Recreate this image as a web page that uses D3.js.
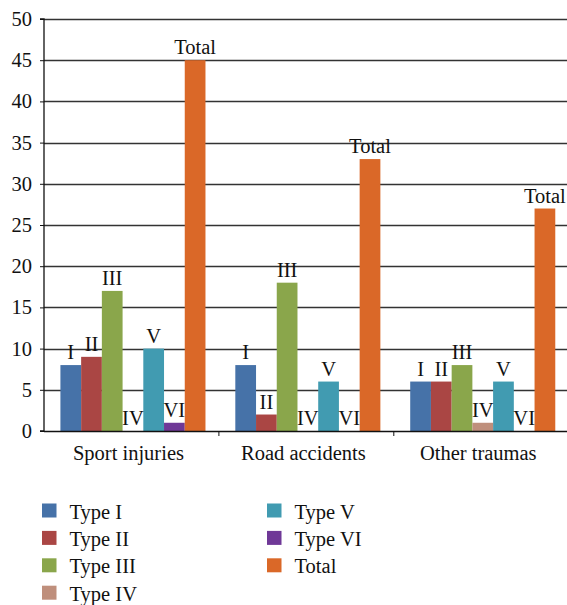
<!DOCTYPE html>
<html>
<head>
<meta charset="utf-8">
<script src="https://cdn.jsdelivr.net/npm/d3@7"></script>
<style>
  body { margin: 0; background: #fff; }
</style>
</head>
<body>
<script>
// data
var categories = ["Sport injuries", "Road accidents", "Other traumas"];
var seriesNames = ["Type I", "Type II", "Type III", "Type IV", "Type V", "Type VI", "Total"];
var barLabels = ["I", "II", "III", "IV", "V", "VI", "Total"];
var typeI = [8, 8, 6];
var typeII = [9, 2, 6];
var typeIII = [17, 18, 8];
var typeIV = [0, 0, 1];
var typeV = [10, 6, 6];
var typeVI = [1, 0, 0];
var total = [45, 33, 27];
var yTicks = [0, 5, 10, 15, 20, 25, 30, 35, 40, 45, 50];

var seriesValues = [typeI, typeII, typeIII, typeIV, typeV, typeVI, total];
var colors = ["#4672a8", "#aa4644", "#8aa64b", "#bf8f7c", "#419bb1", "#6f3897", "#da6828"];

var width = 567, height = 605;
var plotLeft = 44, plotRight = 568.7, plotTop = 19, plotBottom = 431;
var fs = 20.5;
var serif = "Liberation Serif";

var svg = d3.select("body").append("svg")
  .attr("width", width)
  .attr("height", height)
  .attr("font-family", serif);

var y = d3.scaleLinear().domain([0, 50]).range([plotBottom, plotTop]);
var x0 = d3.scaleBand().domain(categories).range([plotLeft, plotRight]);
var x1 = d3.scaleBand().domain(seriesNames).range([0, x0.bandwidth()])
  .paddingOuter(0.72).align(0.55);
var color = d3.scaleOrdinal().domain(seriesNames).range(colors);

// gridlines
svg.append("g")
  .selectAll("line")
  .data(yTicks.filter(function (d) { return d > 0; }))
  .enter()
  .append("line")
  .attr("x1", plotLeft)
  .attr("x2", width)
  .attr("y1", function (d) { return Math.round(y(d)) + 0.5; })
  .attr("y2", function (d) { return Math.round(y(d)) + 0.5; })
  .attr("stroke", "#333")
  .attr("stroke-width", 1.3);

// bars
var rows = [];
categories.forEach(function (c, ci) {
  seriesNames.forEach(function (s, si) {
    rows.push({ cat: c, series: s, label: barLabels[si], value: seriesValues[si][ci] });
  });
});

var groups = svg.append("g");
groups.selectAll("rect")
  .data(rows)
  .enter()
  .append("rect")
  .attr("x", function (d) { return x0(d.cat) + x1(d.series); })
  .attr("y", function (d) { return y(d.value); })
  .attr("width", x1.bandwidth())
  .attr("height", function (d) { return y(0) - y(d.value); })
  .attr("fill", function (d) { return color(d.series); });

groups.selectAll("text")
  .data(rows)
  .enter()
  .append("text")
  .attr("x", function (d) { return x0(d.cat) + x1(d.series) + x1.bandwidth() / 2; })
  .attr("y", function (d) { return y(d.value) - 6; })
  .attr("text-anchor", "middle")
  .attr("font-size", fs)
  .attr("fill", "#111")
  .text(function (d) { return d.label; });

// y axis
var yAxis = svg.append("g")
  .attr("transform", "translate(" + plotLeft + ",0)")
  .call(d3.axisLeft(y).tickValues(yTicks).tickSize(4).tickPadding(8));
yAxis.attr("font-family", serif).attr("font-size", fs);
yAxis.select(".domain").attr("stroke", "#111").attr("stroke-width", 1.3)
  .attr("d", "M-4," + plotTop + "H0V" + plotBottom + "H-4");
yAxis.selectAll(".tick line").attr("stroke", "#111");
yAxis.selectAll(".tick text").attr("fill", "#111");

// x axis
var xAxis = svg.append("g")
  .attr("transform", "translate(0," + plotBottom + ")");
xAxis.append("line")
  .attr("x1", plotLeft).attr("x2", width)
  .attr("y1", 0.5).attr("y2", 0.5)
  .attr("stroke", "#111").attr("stroke-width", 1.3);
xAxis.selectAll("line.tk")
  .data(categories.slice(1))
  .enter()
  .append("line")
  .attr("class", "tk")
  .attr("x1", function (d) { return x0(d); })
  .attr("x2", function (d) { return x0(d); })
  .attr("y1", 0).attr("y2", 5)
  .attr("stroke", "#111");
xAxis.selectAll("text")
  .data(categories)
  .enter()
  .append("text")
  .attr("x", function (d) { return x0(d) + x0.bandwidth() / 2 - 3; })
  .attr("y", 29)
  .attr("text-anchor", "middle")
  .attr("font-size", fs)
  .attr("fill", "#111")
  .text(function (d) { return d; });

// legend
var legend = svg.append("g");
var item = legend.selectAll("g")
  .data(seriesNames)
  .enter()
  .append("g")
  .attr("transform", function (d, i) {
    var col = i < 4 ? 0 : 1;
    var row = i < 4 ? i : i - 4;
    return "translate(" + (col ? 267 : 42) + "," + (503.5 + row * 27.4) + ")";
  });
item.append("rect")
  .attr("width", 14.5)
  .attr("height", 14)
  .attr("fill", function (d) { return color(d); });
item.append("text")
  .attr("x", 27.5)
  .attr("y", 15)
  .attr("font-size", fs)
  .attr("fill", "#111")
  .text(function (d) { return d; });
</script>
</body>
</html>
